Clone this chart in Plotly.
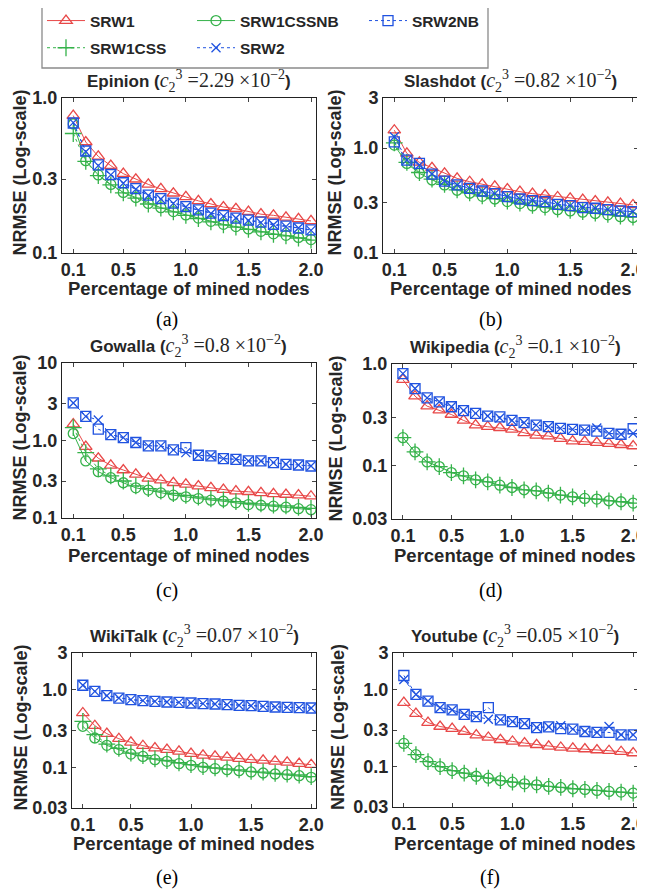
import math
import plotly.graph_objects as go

# page body has an 8px margin: figure is drawn 8px right/down of the window corner
OFF = 8
W, H = 645 - OFF, 890 - OFF

# ---------------- data ----------------
X = [0.1, 0.2, 0.3, 0.4, 0.5, 0.6, 0.7, 0.8, 0.9, 1.0,
     1.1, 1.2, 1.3, 1.4, 1.5, 1.6, 1.7, 1.8, 1.9, 2.0]

SERIES = ["SRW1", "SRW1CSS", "SRW1CSSNB", "SRW2", "SRW2NB"]

DATASETS = ["Epinion", "Slashdot", "Gowalla", "Wikipedia", "WikiTalk", "Youtube"]
C23 = ["2.29", "0.82", "0.8", "0.1", "0.07", "0.05"]
LETTERS = ["(a)", "(b)", "(c)", "(d)", "(e)", "(f)"]

epinion_srw1 = [0.77, 0.52, 0.42, 0.366, 0.325, 0.299, 0.277, 0.259, 0.243, 0.230,
                0.217, 0.207, 0.198, 0.193, 0.185, 0.178, 0.175, 0.170, 0.166, 0.161]
epinion_srw1css = [0.59, 0.39, 0.316, 0.275, 0.244, 0.226, 0.207, 0.195, 0.184, 0.175,
                   0.167, 0.159, 0.152, 0.147, 0.142, 0.137, 0.132, 0.129, 0.125, 0.121]
epinion_srw1cssnb = [0.68, 0.394, 0.319, 0.277, 0.246, 0.228, 0.209, 0.196, 0.185, 0.176,
                     0.168, 0.160, 0.153, 0.148, 0.143, 0.138, 0.133, 0.130, 0.126, 0.122]
epinion_srw2 = [0.694, 0.450, 0.366, 0.319, 0.282, 0.258, 0.235, 0.223, 0.209, 0.198,
                0.189, 0.180, 0.173, 0.168, 0.162, 0.157, 0.152, 0.148, 0.145, 0.140]
epinion_srw2nb = [0.69, 0.455, 0.37, 0.321, 0.284, 0.26, 0.236, 0.224, 0.21, 0.199,
                  0.19, 0.181, 0.174, 0.168, 0.163, 0.158, 0.153, 0.149, 0.145, 0.141]

slashdot_srw1 = [1.48, 0.889, 0.730, 0.649, 0.574, 0.514, 0.478, 0.451, 0.432, 0.407,
                 0.384, 0.368, 0.357, 0.342, 0.332, 0.323, 0.313, 0.304, 0.296, 0.287]
slashdot_srw1css = [1.12, 0.73, 0.585, 0.505, 0.452, 0.40, 0.375, 0.351, 0.330, 0.312,
                    0.299, 0.284, 0.274, 0.262, 0.255, 0.248, 0.240, 0.233, 0.225, 0.220]
slashdot_srw1cssnb = [1.067, 0.714, 0.574, 0.496, 0.445, 0.396, 0.371, 0.347, 0.327, 0.309,
                      0.296, 0.281, 0.271, 0.259, 0.252, 0.245, 0.238, 0.231, 0.222, 0.218]
slashdot_srw2 = [1.28, 0.768, 0.690, 0.565, 0.485, 0.445, 0.413, 0.390, 0.368, 0.344,
                 0.327, 0.316, 0.309, 0.291, 0.283, 0.271, 0.267, 0.259, 0.252, 0.248]
slashdot_srw2nb = [1.146, 0.768, 0.714, 0.565, 0.485, 0.445, 0.413, 0.390, 0.368, 0.344,
                   0.327, 0.316, 0.309, 0.291, 0.283, 0.271, 0.267, 0.259, 0.252, 0.248]

gowalla_srw1 = [1.63, 0.836, 0.590, 0.478, 0.416, 0.365, 0.324, 0.308, 0.285, 0.271,
                0.258, 0.245, 0.233, 0.222, 0.218, 0.211, 0.205, 0.201, 0.197, 0.191]
gowalla_srw1css = [1.47, 0.698, 0.43, 0.35, 0.30, 0.26, 0.24, 0.222, 0.207, 0.196,
                   0.186, 0.177, 0.171, 0.163, 0.155, 0.152, 0.147, 0.143, 0.137, 0.133]
gowalla_srw1cssnb = [1.23, 0.545, 0.396, 0.331, 0.285, 0.245, 0.229, 0.211, 0.197, 0.1875,
                     0.178, 0.170, 0.1645, 0.157, 0.149, 0.146, 0.142, 0.138, 0.132, 0.128]
gowalla_srw2 = [3.05, 2.05, 1.84, 1.19, 1.09, 0.942, 0.853, 0.853, 0.757, 0.698,
                0.645, 0.632, 0.584, 0.572, 0.545, 0.545, 0.518, 0.493, 0.483, 0.469]
gowalla_srw2nb = [3.05, 2.05, 1.40, 1.19, 1.09, 0.942, 0.853, 0.853, 0.757, 0.811,
                  0.645, 0.632, 0.584, 0.572, 0.545, 0.545, 0.518, 0.493, 0.483, 0.469]

wikipedia_srw1 = [0.703, 0.483, 0.385, 0.352, 0.319, 0.279, 0.251, 0.242, 0.2365, 0.228,
                  0.211, 0.199, 0.196, 0.1846, 0.175, 0.1725, 0.1686, 0.1648, 0.161, 0.1564]
wikipedia_srw1css = [0.189, 0.1367, 0.109, 0.0982, 0.0858, 0.0796, 0.0728, 0.0695, 0.0645, 0.0612,
                     0.0581, 0.0568, 0.0539, 0.0515, 0.0496, 0.0478, 0.0471, 0.0453, 0.0443, 0.0430]
wikipedia_srw1cssnb = [0.189, 0.1367, 0.109, 0.0982, 0.0858, 0.0796, 0.0728, 0.0695, 0.0645, 0.0612,
                       0.0581, 0.0568, 0.0539, 0.0515, 0.0496, 0.0478, 0.0471, 0.0453, 0.0443, 0.0430]
wikipedia_srw2 = [0.804, 0.574, 0.465, 0.425, 0.380, 0.349, 0.327, 0.308, 0.295, 0.279,
                  0.265, 0.251, 0.242, 0.233, 0.228, 0.224, 0.235, 0.208, 0.204, 0.208]
wikipedia_srw2nb = [0.804, 0.574, 0.465, 0.425, 0.380, 0.349, 0.327, 0.308, 0.303, 0.279,
                    0.265, 0.251, 0.242, 0.233, 0.228, 0.224, 0.219, 0.208, 0.204, 0.231]

wikitalk_srw1 = [0.505, 0.346, 0.273, 0.235, 0.211, 0.191, 0.178, 0.170, 0.1615, 0.1507,
                 0.1435, 0.1393, 0.135, 0.130, 0.126, 0.1236, 0.120, 0.1165, 0.112, 0.1086]
wikitalk_srw1css = [0.394, 0.265, 0.20, 0.176, 0.153, 0.142, 0.129, 0.123, 0.115, 0.109,
                    0.103, 0.099, 0.096, 0.093, 0.089, 0.087, 0.084, 0.082, 0.080, 0.076]
wikitalk_srw1cssnb = [0.340, 0.240, 0.193, 0.170, 0.149, 0.139, 0.126, 0.120, 0.112, 0.1066,
                      0.1004, 0.0966, 0.0937, 0.091, 0.0875, 0.0849, 0.0824, 0.0807, 0.0783, 0.0746]
wikitalk_srw2 = [1.15, 0.96, 0.844, 0.787, 0.750, 0.728, 0.713, 0.700, 0.692, 0.679,
                 0.666, 0.659, 0.646, 0.634, 0.627, 0.615, 0.603, 0.597, 0.592, 0.585]
wikitalk_srw2nb = [1.15, 0.96, 0.844, 0.787, 0.750, 0.728, 0.713, 0.700, 0.692, 0.679,
                   0.666, 0.659, 0.646, 0.634, 0.627, 0.615, 0.603, 0.597, 0.592, 0.585]

youtube_srw1 = [0.679, 0.490, 0.375, 0.333, 0.313, 0.287, 0.257, 0.240, 0.224, 0.213,
                0.203, 0.193, 0.1837, 0.178, 0.173, 0.170, 0.165, 0.1615, 0.1567, 0.1507]
youtube_srw1css = [0.201, 0.1435, 0.1165, 0.1004, 0.0891, 0.0824, 0.0753, 0.0710, 0.0662, 0.0631,
                   0.0600, 0.0582, 0.0555, 0.0538, 0.0518, 0.0507, 0.0492, 0.0478, 0.0469, 0.0455]
youtube_srw1cssnb = [0.201, 0.1435, 0.1165, 0.1004, 0.0891, 0.0824, 0.0753, 0.0710, 0.0662, 0.0631,
                     0.0600, 0.0582, 0.0555, 0.0538, 0.0518, 0.0507, 0.0492, 0.0478, 0.0469, 0.0455]
youtube_srw2 = [1.36, 0.869, 0.713, 0.585, 0.546, 0.480, 0.448, 0.414, 0.406, 0.386,
                0.364, 0.323, 0.330, 0.340, 0.308, 0.287, 0.279, 0.333, 0.260, 0.260]
youtube_srw2nb = [1.53, 0.869, 0.713, 0.585, 0.546, 0.480, 0.448, 0.585, 0.406, 0.386,
                  0.364, 0.323, 0.330, 0.313, 0.308, 0.287, 0.279, 0.279, 0.260, 0.260]

VALUES = {
    "Epinion": [epinion_srw1, epinion_srw1css, epinion_srw1cssnb, epinion_srw2, epinion_srw2nb],
    "Slashdot": [slashdot_srw1, slashdot_srw1css, slashdot_srw1cssnb, slashdot_srw2, slashdot_srw2nb],
    "Gowalla": [gowalla_srw1, gowalla_srw1css, gowalla_srw1cssnb, gowalla_srw2, gowalla_srw2nb],
    "Wikipedia": [wikipedia_srw1, wikipedia_srw1css, wikipedia_srw1cssnb, wikipedia_srw2, wikipedia_srw2nb],
    "WikiTalk": [wikitalk_srw1, wikitalk_srw1css, wikitalk_srw1cssnb, wikitalk_srw2, wikitalk_srw2nb],
    "Youtube": [youtube_srw1, youtube_srw1css, youtube_srw1cssnb, youtube_srw2, youtube_srw2nb],
}

X_TICKS = [0.1, 0.5, 1.0, 1.5, 2.0]
X_TICKTEXT = ["0.1", "0.5", "1.0", "1.5", "2.0"]
Y_TICKS = [
    [0.1, 0.3, 1.0],
    [0.1, 0.3, 1.0, 3],
    [0.1, 0.3, 1.0, 3, 10],
    [0.03, 0.1, 0.3, 1.0],
    [0.03, 0.1, 0.3, 1.0, 3],
    [0.03, 0.1, 0.3, 1.0, 3],
]
Y_TICKTEXT = [
    ["0.1", "0.3", "1.0"],
    ["0.1", "0.3", "1.0", "3"],
    ["0.1", "0.3", "1.0", "3", "10"],
    ["0.03", "0.1", "0.3", "1.0"],
    ["0.03", "0.1", "0.3", "1.0", "3"],
    ["0.03", "0.1", "0.3", "1.0", "3"],
]
Y_RANGES = [(0.1, 1.0), (0.1, 3), (0.1, 10), (0.03, 1.0), (0.03, 3), (0.03, 3)]

# ---------------- styles / layout ----------------
RED = "#e84848"
GREEN = "#35b24a"
BLUE = "#1f52e0"
STYLE = {
    "SRW1": dict(color=RED, dash="solid", symbol="triangle-up-open", size=11, legend="legend"),
    "SRW1CSS": dict(color=GREEN, dash="dot", symbol="cross-thin", size=12, legend="legend"),
    "SRW1CSSNB": dict(color=GREEN, dash="solid", symbol="circle-open", size=10, legend="legend2"),
    "SRW2": dict(color=BLUE, dash="dot", symbol="x-thin", size=9, legend="legend2"),
    "SRW2NB": dict(color=BLUE, dash="dot", symbol="square-open", size=10, legend="legend3"),
}

# plot-area boxes in window pixels: (x0, x1, y0_top, y1_bottom)
BOXES = [
    (62, 316, 98, 253),
    (383, 638, 98, 253),
    (62, 316, 363, 518),
    (392, 638, 364, 519),
    (72, 316, 653, 808),
    (393, 638, 653, 807),
]
YTITLE_X = [19, 334, 19, 335, 20, 338]
XTITLE_Y = [288, 288, 555, 555, 843, 843]
LETTER_POS = [(167, 320), (490, 320), (167, 590), (490, 590), (167, 877), (490, 877)]

SANS = "Liberation Sans, Arial, sans-serif"
SERIF = "Liberation Serif, Times New Roman, serif"
TXT = "#262626"

fig = go.Figure()
layout = dict(
    width=W, height=H, margin=dict(l=0, r=0, t=0, b=0, autoexpand=False),
    paper_bgcolor="white", plot_bgcolor="white",
    showlegend=True,
    annotations=[], shapes=[],
    font=dict(family=SANS, color=TXT),
)


def px(x):
    return (x - OFF) / W


def py(y):
    return 1 - (y - OFF) / H


for i, name in enumerate(DATASETS):
    n = i + 1
    xa = "x" if n == 1 else f"x{n}"
    ya = "y" if n == 1 else f"y{n}"
    x0, x1, y0, y1 = BOXES[i]
    for s, vals in zip(SERIES, VALUES[name]):
        st = STYLE[s]
        fig.add_trace(go.Scatter(
            x=X, y=vals, xaxis=xa, yaxis=ya, name=s,
            mode="lines+markers",
            line=dict(color=st["color"], width=1, dash=st["dash"]),
            marker=dict(symbol=st["symbol"], size=st["size"], color=st["color"],
                        line=dict(color=st["color"], width=1.3)),
            legend=st["legend"], legendgroup=s, showlegend=(i == 0),
        ))
    axis_common = dict(showline=True, linecolor="#222", linewidth=1, mirror="ticks",
                       ticks="inside", ticklen=4, tickcolor="#444", showgrid=False,
                       zeroline=False, automargin=False, ticklabeloverflow="allow",
                       tickfont=dict(family=SANS, size=18, color=TXT, weight="bold"))
    layout["xaxis" if n == 1 else f"xaxis{n}"] = dict(
        domain=[px(x0), min(px(x1), 1.0)], anchor=ya, range=[0.01, 2.04],
        tickvals=X_TICKS, ticktext=X_TICKTEXT, **axis_common)
    lo, hi = Y_RANGES[i]
    layout["yaxis" if n == 1 else f"yaxis{n}"] = dict(
        domain=[py(y1), py(y0)], anchor=xa, type="log",
        range=[math.log10(lo), math.log10(hi)],
        tickvals=Y_TICKS[i], ticktext=Y_TICKTEXT[i], **axis_common)

    cx = (x0 + x1) / 2
    cy = (y0 + y1) / 2
    title = (f"<b>{name} (</b><span style='font-family:{SERIF};font-size:20px'><i>c</i>"
             f"<sub>2</sub><sup>3</sup> ={C23[i]} ×10<sup>−2</sup></span><b>)</b>")
    layout["annotations"].append(dict(
        x=px(cx), y=py(y0 - 1), xref="paper", yref="paper", xanchor="center", yanchor="bottom",
        text=title, showarrow=False, font=dict(family=SANS, size=17, color=TXT)))
    layout["annotations"].append(dict(
        x=px(YTITLE_X[i]), y=py(cy - 3), xref="paper", yref="paper", xanchor="center",
        yanchor="middle", text="<b>NRMSE (Log-scale)</b>", textangle=-90, showarrow=False,
        font=dict(family=SANS, size=18, color=TXT)))
    layout["annotations"].append(dict(
        x=px(cx), y=py(XTITLE_Y[i]), xref="paper", yref="paper", xanchor="center",
        yanchor="middle", text="<b>Percentage of mined nodes</b>", showarrow=False,
        font=dict(family=SANS, size=18.5, color=TXT)))
    lx, ly = LETTER_POS[i]
    layout["annotations"].append(dict(
        x=px(lx), y=py(ly), xref="paper", yref="paper", xanchor="center",
        yanchor="middle", text=LETTERS[i], showarrow=False,
        font=dict(family=SERIF, size=20, color="black")))

leg_common = dict(orientation="v", bgcolor="rgba(0,0,0,0)", borderwidth=0,
                  traceorder="grouped", tracegroupgap=4, yanchor="top",
                  font=dict(family=SANS, size=15.5, color=TXT, weight="bold"),
                  itemsizing="trace", itemwidth=38)
layout["legend"] = dict(x=px(42), y=py(4), **leg_common)
layout["legend2"] = dict(x=px(192), y=py(4), **leg_common)
layout["legend3"] = dict(x=px(364), y=py(4), **leg_common)
layout["shapes"].append(dict(type="rect", xref="paper", yref="paper",
                             x0=px(42), x1=px(488), y0=py(68), y1=py(4),
                             line=dict(color="#8a8a8a", width=1.3)))

fig.update_layout(**layout)
fig.write_html("out.html")
